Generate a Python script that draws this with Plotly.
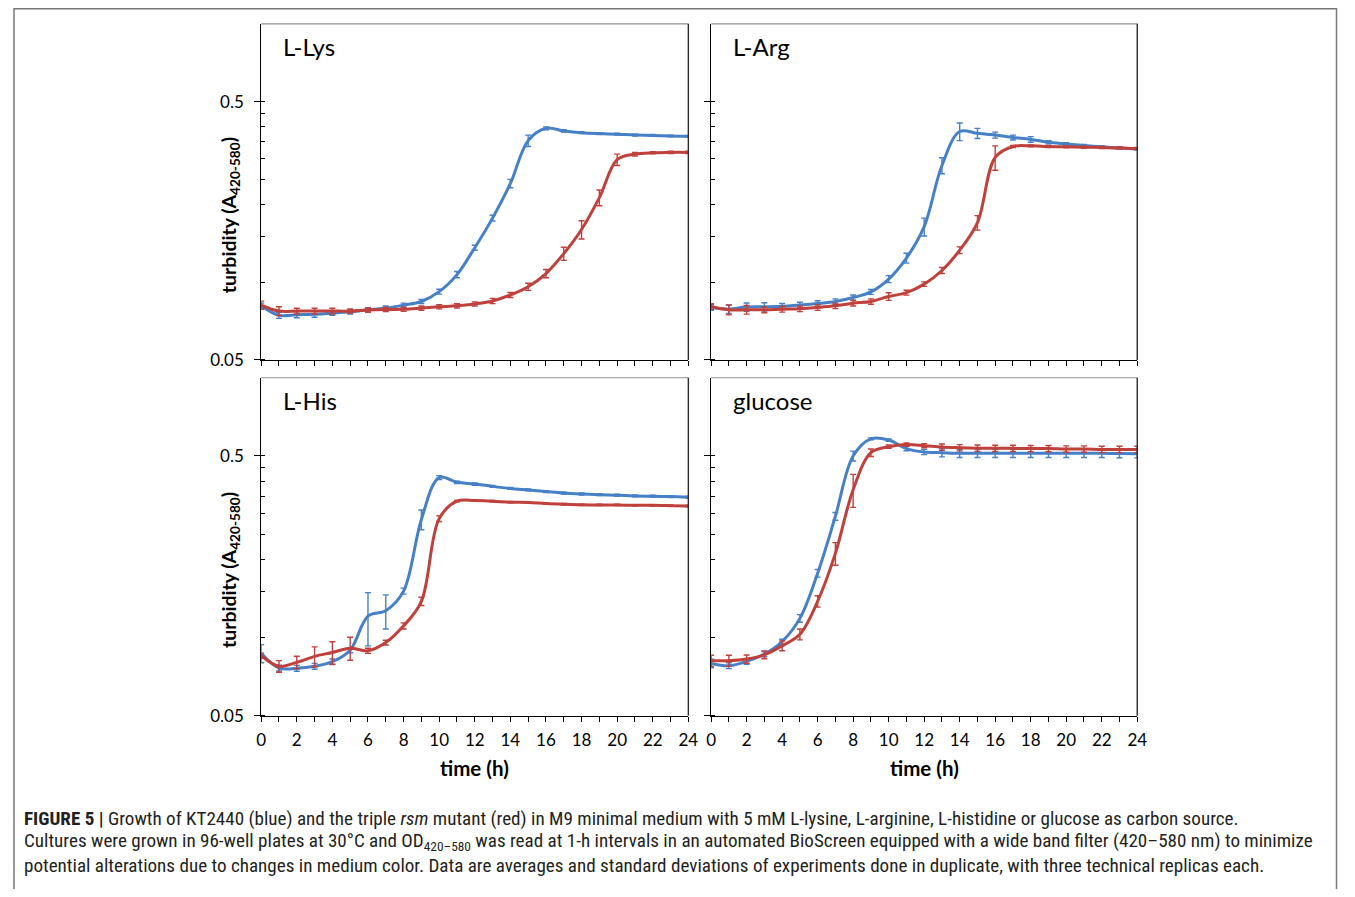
import math
import plotly.graph_objects as go

# ---------------- data ----------------
hours = list(range(25))
x_tick_labels = [str(h) if h % 2 == 0 else "" for h in hours]
y_major_vals = [0.05, 0.5]
y_major_text = ["0.05", "0.5"]
y_minor_vals = [0.05, 0.1, 0.15, 0.2, 0.25, 0.3, 0.35, 0.4, 0.45, 0.5]

panel_names = ["L-Lys", "L-Arg", "L-His", "glucose"]

# KT2440 (blue)
lys_kt = [0.081, 0.0744, 0.0748, 0.0752, 0.0759, 0.0768, 0.0782, 0.0794, 0.0815, 0.0842, 0.0919, 0.107,
          0.136, 0.177, 0.241, 0.353, 0.394, 0.385, 0.379, 0.376, 0.374, 0.371, 0.370, 0.368, 0.367]
lys_kt_sd = [0.002, 0.002, 0.002, 0.002, 0.0015, 0.0015, 0.0015, 0.0015, 0.0015, 0.0015, 0.002, 0.003,
             0.003, 0.0045, 0.009, 0.018, 0.005, 0.004, 0.003, 0.003, 0.003, 0.003, 0.003, 0.003, 0.003]
arg_kt = [0.0798, 0.0786, 0.0801, 0.0803, 0.0807, 0.0816, 0.0827, 0.0842, 0.0872, 0.0917, 0.1028, 0.124,
          0.164, 0.283, 0.383, 0.377, 0.371, 0.363, 0.357, 0.348, 0.343, 0.338, 0.334, 0.331, 0.328]
arg_kt_sd = [0.002, 0.003, 0.003, 0.003, 0.002, 0.002, 0.002, 0.002, 0.002, 0.002, 0.0032, 0.0055,
             0.013, 0.02, 0.03, 0.017, 0.01, 0.008, 0.009, 0.005, 0.004, 0.003, 0.003, 0.003, 0.003]
his_kt = [0.087, 0.0764, 0.0762, 0.0776, 0.0808, 0.0895, 0.121, 0.127, 0.151, 0.285, 0.413, 0.396,
          0.390, 0.382, 0.375, 0.370, 0.365, 0.360, 0.357, 0.355, 0.353, 0.351, 0.350, 0.349, 0.347]
his_kt_sd = [0.007, 0.002, 0.002, 0.002, 0.002, 0.002, 0.028, 0.019, 0.004, 0.025, 0.007, 0.004,
             0.004, 0.003, 0.003, 0.003, 0.003, 0.003, 0.003, 0.003, 0.003, 0.003, 0.003, 0.003, 0.003]
glc_kt = [0.0796, 0.078, 0.081, 0.0864, 0.0966, 0.1186, 0.177, 0.293, 0.500, 0.582, 0.576, 0.534,
          0.518, 0.515, 0.512, 0.512, 0.512, 0.512, 0.512, 0.512, 0.512, 0.512, 0.512, 0.511, 0.5105]
glc_kt_sd = [0.003, 0.002, 0.002, 0.002, 0.002, 0.004, 0.006, 0.01, 0.022, 0.005, 0.006, 0.01,
             0.012, 0.019, 0.019, 0.019, 0.019, 0.019, 0.019, 0.019, 0.019, 0.019, 0.019, 0.019, 0.019]

# triple rsm mutant (red)
lys_rsm = [0.0815, 0.0773, 0.0773, 0.0773, 0.0773, 0.0773, 0.078, 0.0784, 0.0786, 0.0794, 0.0803, 0.081,
           0.0824, 0.0846, 0.0892, 0.096, 0.108, 0.129, 0.160, 0.2125, 0.298, 0.313, 0.317, 0.318, 0.318]
lys_rsm_sd = [0.003, 0.003, 0.002, 0.002, 0.002, 0.0015, 0.0015, 0.0015, 0.0015, 0.0015, 0.0015, 0.0015,
              0.0015, 0.002, 0.002, 0.003, 0.004, 0.0075, 0.013, 0.015, 0.015, 0.005, 0.003, 0.003, 0.003]
arg_rsm = [0.0805, 0.0782, 0.0782, 0.0782, 0.0786, 0.0789, 0.0798, 0.081, 0.0829, 0.0842, 0.088, 0.0911,
           0.0983, 0.111, 0.133, 0.170, 0.304, 0.335, 0.337, 0.335, 0.334, 0.333, 0.332, 0.331, 0.329]
arg_rsm_sd = [0.002, 0.0035, 0.003, 0.002, 0.002, 0.002, 0.002, 0.002, 0.002, 0.002, 0.003, 0.002,
              0.002, 0.003, 0.004, 0.011, 0.033, 0.003, 0.003, 0.003, 0.003, 0.003, 0.003, 0.003, 0.003]
his_rsm = [0.0852, 0.0776, 0.0803, 0.0847, 0.0877, 0.0911, 0.089, 0.0957, 0.111, 0.138, 0.287, 0.335,
           0.337, 0.335, 0.332, 0.331, 0.328, 0.326, 0.3245, 0.324, 0.324, 0.323, 0.323, 0.322, 0.321]
his_rsm_sd = [0.002, 0.004, 0.0045, 0.0074, 0.0087, 0.0093, 0.002, 0.002, 0.003, 0.005, 0.007, 0.002,
              0.002, 0.002, 0.002, 0.002, 0.002, 0.002, 0.002, 0.002, 0.002, 0.002, 0.002, 0.002, 0.002]
glc_rsm = [0.0815, 0.0815, 0.0827, 0.0859, 0.093, 0.103, 0.138, 0.211, 0.371, 0.515, 0.543, 0.553,
           0.548, 0.541, 0.538, 0.536, 0.535, 0.535, 0.534, 0.534, 0.532, 0.532, 0.530, 0.530, 0.530]
glc_rsm_sd = [0.004, 0.004, 0.003, 0.003, 0.004, 0.005, 0.007, 0.021, 0.054, 0.017, 0.008, 0.008,
              0.01, 0.015, 0.015, 0.015, 0.015, 0.015, 0.015, 0.015, 0.015, 0.015, 0.015, 0.015, 0.015]

caption_lines = [
    "<b>FIGURE 5 |</b> Growth of KT2440 (blue) and the triple <i>rsm</i> mutant (red) in M9 minimal medium with 5 mM L-lysine, L-arginine, L-histidine or glucose as carbon source.",
    "Cultures were grown in 96-well plates at 30°C and OD<sub>420–580</sub> was read at 1-h intervals in an automated BioScreen equipped with a wide band filter (420–580 nm) to minimize",
    "potential alterations due to changes in medium color. Data are averages and standard deviations of experiments done in duplicate, with three technical replicas each.",
]

# ---------------- styling / layout ----------------
# The page keeps the browser's default 8 px body margin, so the figure is
# 16 px smaller than the window and every page position is shifted by 8 px.
PAGE_W, PAGE_H = 1355, 897
OFF = 8
W, H = PAGE_W - 2 * OFF, PAGE_H - 2 * OFF
BLUE = "#4680c6"
RED = "#c0403c"
FONT = "Lato, Open Sans, sans-serif"
CAP_FONT = "Liberation Sans Narrow, Roboto Condensed, Liberation Sans, Arial, sans-serif"


def fx(px):
    return (px - OFF) / W


def fy(py):
    return 1 - (py - OFF) / H


# panel boxes in page pixels: (left, right, top, bottom)
boxes = [(259, 691, 24, 364), (714, 1145, 24, 364), (259, 691, 382, 724), (714, 1145, 382, 724)]

series = [
    (lys_kt, lys_kt_sd, lys_rsm, lys_rsm_sd),
    (arg_kt, arg_kt_sd, arg_rsm, arg_rsm_sd),
    (his_kt, his_kt_sd, his_rsm, his_rsm_sd),
    (glc_kt, glc_kt_sd, glc_rsm, glc_rsm_sd),
]

fig = go.Figure()
layout = dict(
    width=W, height=H,
    margin=dict(l=0, r=0, t=0, b=0),
    paper_bgcolor="white", plot_bgcolor="white",
    showlegend=False,
    font=dict(family=FONT, color="black"),
)

annotations = []
shapes = []

for i, (box, (kt, kt_sd, rsm, rsm_sd)) in enumerate(zip(boxes, series)):
    n = i + 1
    xa = "x" if n == 1 else f"x{n}"
    ya = "y" if n == 1 else f"y{n}"
    for vals, sd, col in ((kt, kt_sd, BLUE), (rsm, rsm_sd, RED)):
        fig.add_trace(go.Scatter(
            x=hours, y=vals, mode="lines",
            line=dict(color=col, width=3, shape="spline", smoothing=1.0),
            error_y=dict(type="data", array=sd, visible=True, color=col, thickness=1.4, width=3),
            xaxis=xa, yaxis=ya, hoverinfo="skip",
        ))
    left, right, top, bottom = box
    bottom_row = i >= 2
    left_col = i % 2 == 0
    layout["xaxis" if n == 1 else f"xaxis{n}"] = dict(
        domain=[fx(left), fx(right)], anchor=ya, range=[0, 24],
        tickmode="array", tickvals=hours, ticktext=x_tick_labels,
        showticklabels=bottom_row, ticks="outside", ticklen=5, tickwidth=1, tickcolor="black",
        ticklabelstandoff=4,
        showline=True, linecolor="black", linewidth=1, mirror=False,
        showgrid=False, zeroline=False, fixedrange=True,
        tickfont=dict(family=FONT, size=17, color="black"),
    )
    layout["yaxis" if n == 1 else f"yaxis{n}"] = dict(
        domain=[fy(bottom), fy(top)], anchor=xa, type="log",
        range=[math.log10(0.05), 0],
        tickmode="array", tickvals=y_major_vals, ticktext=y_major_text,
        showticklabels=left_col, ticks="outside", ticklen=6, tickwidth=1, tickcolor="black",
        ticklabelstandoff=7,
        showline=True, linecolor="black", linewidth=1, mirror=False,
        showgrid=False, zeroline=False, fixedrange=True,
        tickfont=dict(family=FONT, size=17, color="black"),
        minor=dict(tickmode="array", tickvals=y_minor_vals, ticks="inside", ticklen=4,
                   tickwidth=1, tickcolor="black", showgrid=False),
    )
    # top and right frame lines of each panel
    shapes.append(dict(type="line", xref="paper", yref="paper", x0=fx(left), x1=fx(right),
                       y0=fy(top), y1=fy(top), line=dict(color="#8f8f8f", width=1.2)))
    shapes.append(dict(type="line", xref="paper", yref="paper", x0=fx(right), x1=fx(right),
                       y0=fy(top), y1=fy(bottom), line=dict(color="#2a2a2a", width=1.4)))
    # panel label
    annotations.append(dict(text=panel_names[i], xref="paper", yref="paper",
                            x=fx(left + 20), y=fy(top + 23), xanchor="left", yanchor="middle",
                            showarrow=False, font=dict(family=FONT, size=24, color="black")))
    if left_col:
        annotations.append(dict(text="<b>turbidity (A<sub>420-580</sub>)</b>", xref="paper", yref="paper",
                                x=fx(227), y=fy((top + bottom) / 2 + 24), textangle=-90,
                                xanchor="center", yanchor="middle", showarrow=False,
                                font=dict(family=FONT, size=19.5, color="black")))
    if bottom_row:
        annotations.append(dict(text="<b>time (h)</b>", xref="paper", yref="paper",
                                x=fx((left + right) / 2), y=fy(777), xanchor="center", yanchor="middle",
                                showarrow=False, font=dict(family=FONT, size=20.5, color="black")))

# caption
for j, line in enumerate(caption_lines):
    annotations.append(dict(text=line, xref="paper", yref="paper", x=fx(17), y=fy(828 + 23.5 * j),
                            xanchor="left", yanchor="middle", align="left", showarrow=False,
                            font=dict(family=CAP_FONT, size=19.1, color="#231f20")))

# outer figure frame (left, top and right edges; bottom runs off the page)
shapes.append(dict(type="rect", xref="paper", yref="paper", x0=fx(9), x1=fx(1346.5), y0=-0.05,
                   y1=fy(8.8), line=dict(color="#777777", width=1.5), layer="below"))

layout["annotations"] = annotations
layout["shapes"] = shapes
fig.update_layout(**layout)

fig.write_html("out.html", config={"displayModeBar": False})
